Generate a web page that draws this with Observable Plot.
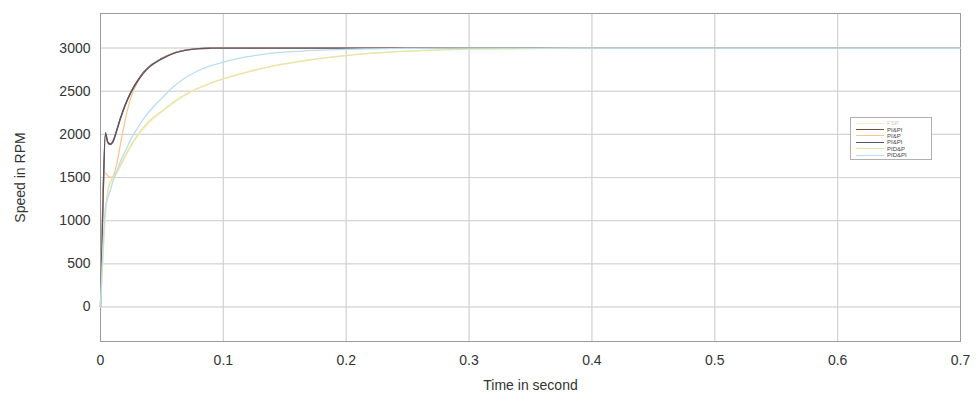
<!DOCTYPE html>
<html><head><meta charset="utf-8">
<script src="https://cdn.jsdelivr.net/npm/d3@7"></script>
<script src="https://cdn.jsdelivr.net/npm/@observablehq/plot@0.6"></script>
<style>
body{margin:0;background:#fff;font-family:"Liberation Sans",Arial,sans-serif;}
#wrap{position:relative;width:976px;height:398px;}
#legend{position:absolute;left:850px;top:117px;width:82px;border:1px solid #b0b0b0;background:#fff;padding:2px 0 1px 0;box-sizing:border-box;}
.row{display:flex;align-items:center;height:6.4px;font-size:6px;color:#444;}
.row span.ln{display:inline-block;width:28px;height:0;border-top:1px solid;margin:0 3px 0 5px;}
</style></head>
<body><div id="wrap"><div id="chart"></div><div id="legend"></div></div>
<script>
const times = [0,0.002,0.004,0.006,0.008,0.01,0.013,0.016,0.02,0.025,0.03,0.035,0.04,0.05,0.06,0.07,0.08,0.09,0.1,0.12,0.14,0.16,0.18,0.2,0.22,0.25,0.3,0.4,0.5,0.6,0.7];
const seriesNames = ["FSP","PI&PI","PI&P","PI&PI ","PID&P","PID&PI"];
const seriesColors = ["#f6efc6","#6e4f45","#f2c98e","#5c5468","#e9e3a6","#b9def0"];
const fsp    = [0,550,1050,1320,1430,1480,1540,1620,1730,1860,1970,2060,2140,2260,2370,2460,2535,2592,2642,2722,2790,2842,2882,2915,2940,2965,2988,2999,3000,3000,3000];
const pipi1  = [0,1250,2020,1910,1890,1920,2040,2180,2340,2500,2620,2720,2790,2880,2945,2978,2993,2999,3000,3000,3000,3000,3000,3000,3000,3000,3000,3000,3000,3000,3000];
const pip    = [0,1300,1550,1520,1500,1510,1640,1870,2160,2440,2600,2710,2785,2875,2943,2977,2992,2999,3000,3000,3000,3000,3000,3000,3000,3000,3000,3000,3000,3000,3000];
const pipi2  = [0,1200,2000,1900,1880,1905,2030,2170,2330,2490,2610,2710,2782,2875,2942,2976,2992,2998,3000,3000,3000,3000,3000,3000,3000,3000,3000,3000,3000,3000,3000];
const pidp   = [0,600,1100,1350,1450,1500,1560,1640,1750,1880,1990,2080,2160,2270,2380,2470,2540,2595,2645,2725,2790,2840,2880,2913,2938,2963,2987,2999,3000,3000,3000];
const pidpi  = [0,700,1150,1270,1350,1450,1560,1680,1800,1950,2070,2180,2270,2420,2560,2665,2740,2795,2838,2900,2940,2962,2976,2985,2991,2996,3000,3000,3000,3000,3000];
const xTicks = [0,0.1,0.2,0.3,0.4,0.5,0.6,0.7];
const yTicks = [0,500,1000,1500,2000,2500,3000];

const allSeries = [fsp,pipi1,pip,pipi2,pidp,pidpi];
const rows = [];
allSeries.forEach((vals,i)=>vals.forEach((v,j)=>rows.push({t:times[j],v,s:seriesNames[i]})));

const chart = Plot.plot({
  width:976, height:398,
  marginLeft:100, marginRight:16, marginTop:13, marginBottom:57,
  style:{fontFamily:"Liberation Sans, Arial, sans-serif", fontSize:"14px", color:"#333"},
  x:{domain:[0,0.7], ticks:xTicks, tickFormat:d=>d===0?"0":d3.format(".1f")(d), label:"Time in second", labelAnchor:"center", labelArrow:"none", labelOffset:48, tickSize:0, tickPadding:14, grid:true},
  y:{domain:[-400,3400], ticks:yTicks, tickFormat:d=>String(d), label:"Speed in RPM", labelAnchor:"center", labelArrow:"none", labelOffset:85, tickSize:0, tickPadding:10, grid:true},
  color:{domain:seriesNames, range:seriesColors},
  marks:[
    Plot.gridX(xTicks,{stroke:"#d0d0d0", strokeOpacity:1}),
    Plot.gridY(yTicks,{stroke:"#d0d0d0", strokeOpacity:1}),
    Plot.frame({stroke:"#9a9a9a"}),
    Plot.line(rows,{x:"t", y:"v", z:"s", stroke:"s", strokeWidth:1.3, curve:"monotone-x"})
  ]
});
document.getElementById("chart").appendChild(chart);

const lg = document.getElementById("legend");
seriesNames.forEach((n,i)=>{
  const r=document.createElement("div"); r.className="row";
  const l=document.createElement("span"); l.className="ln"; l.style.borderColor=seriesColors[i];
  const t=document.createElement("span"); t.textContent=n.trim(); if(i===0) t.style.color="#ccc";
  r.appendChild(l); r.appendChild(t); lg.appendChild(r);
});
</script></body></html>
